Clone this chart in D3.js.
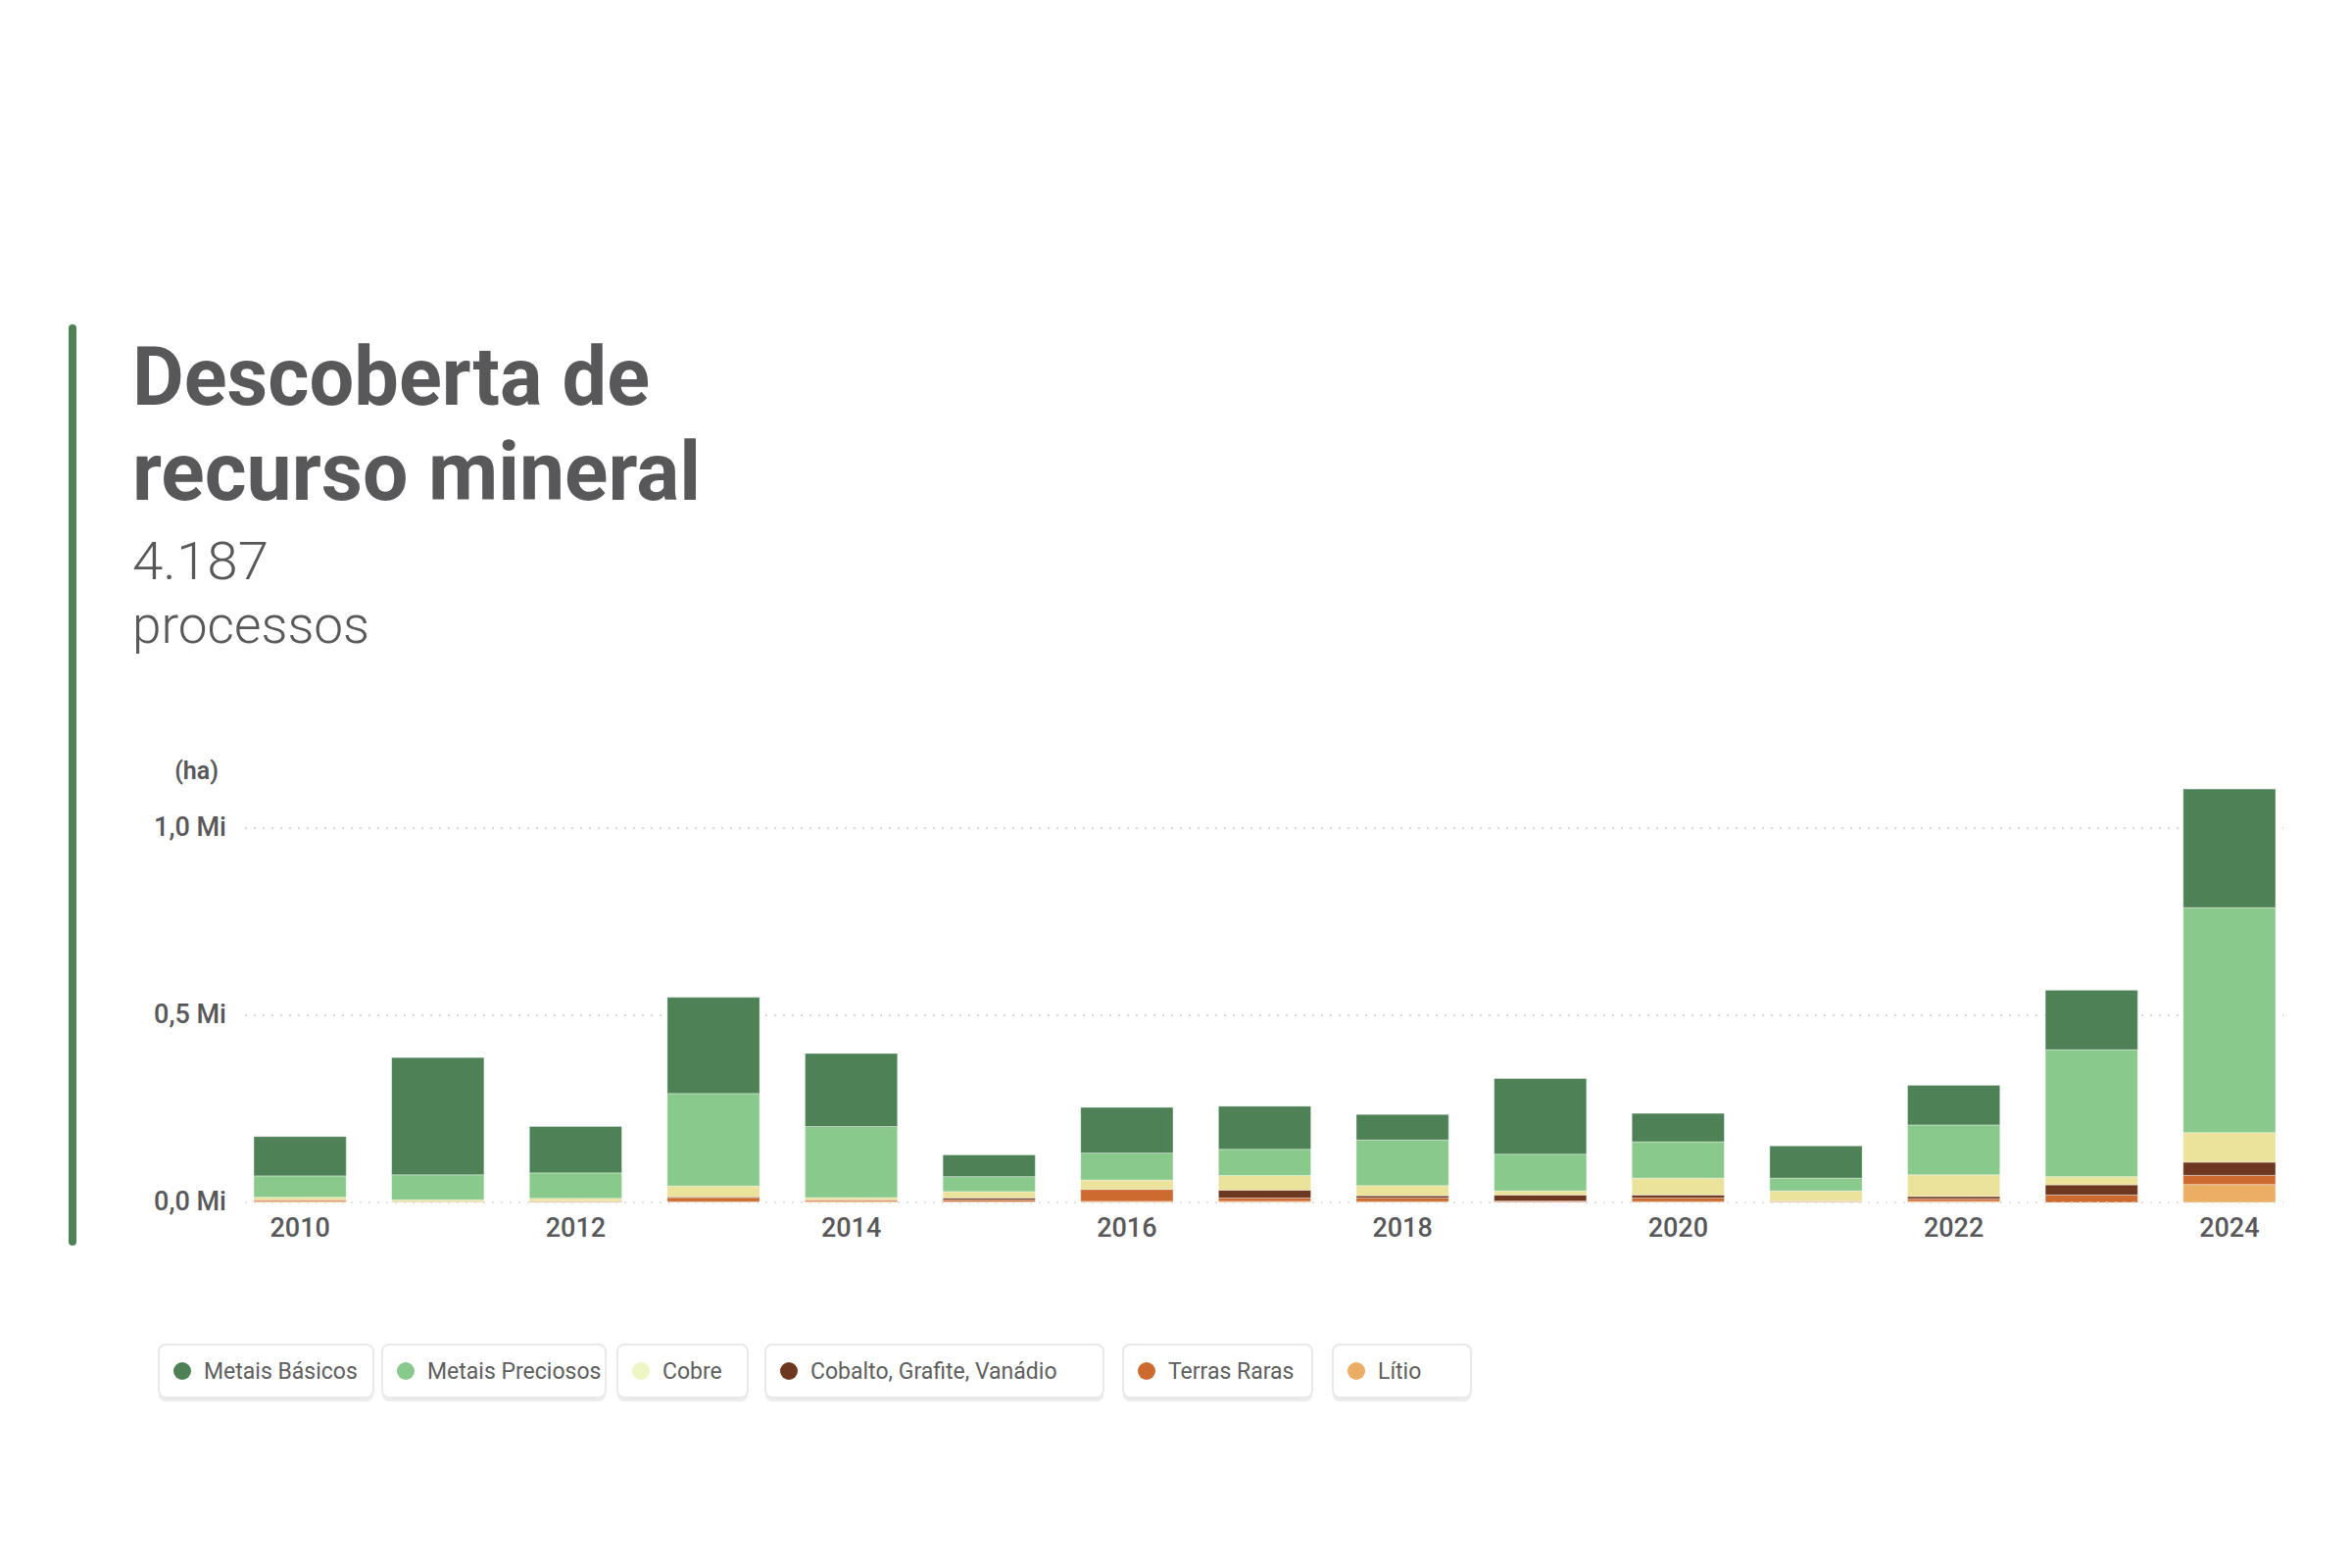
<!DOCTYPE html>
<html>
<head>
<meta charset="utf-8">
<script src="https://cdn.jsdelivr.net/npm/d3@7"></script>
<style>
  body { margin: 0; background: #fff; }
  svg { display: block; font-family: Roboto, "Open Sans", sans-serif; }
</style>
</head>
<body>
<svg id="chart" width="2400" height="1600"></svg>
<script>
// --- values (hectares) ---
const years = [2010, 2011, 2012, 2013, 2014, 2015, 2016, 2017, 2018, 2019, 2020, 2021, 2022, 2023, 2024];
const seriesNames = ["Metais Básicos", "Metais Preciosos", "Cobre", "Cobalto, Grafite, Vanádio", "Terras Raras", "Lítio"];
const seriesColors = ["#4e8156", "#89ca8c", "#ebe29c", "#6e3720", "#cd6a30", "#ecae64"];
const legendDotColors = ["#4e8156", "#89ca8c", "#eef6c4", "#6e3720", "#cd6a30", "#ecae64"];

const metaisBasicos   = [105000, 313000, 124000, 257000, 195000, 58000, 122000, 115000, 68000, 202000, 76000, 86000, 106000, 159000, 317000];
const metaisPreciosos = [57000, 67000, 68000, 247000, 190000, 40000, 72000, 70000, 122000, 98000, 97000, 34000, 133000, 339000, 601000];
const cobre           = [7000, 5000, 8000, 29000, 6000, 17000, 25000, 39000, 27000, 11000, 45000, 27000, 58000, 22000, 79000];
const cobalto         = [0, 0, 0, 2000, 0, 5000, 0, 21000, 6000, 16000, 8000, 0, 6000, 27000, 35000];
const terrasRaras     = [4000, 1000, 2000, 11000, 4000, 5000, 32000, 9000, 10000, 3000, 10000, 2000, 7000, 20000, 24500];
const litio           = [3000, 1000, 1000, 2000, 3000, 2000, 3000, 3000, 2000, 1000, 2000, 2000, 3000, 0, 48000];

const yTicks = [0, 500000, 1000000];
const xTickYears = [2010, 2012, 2014, 2016, 2018, 2020, 2022, 2024];

const seriesValues = [metaisBasicos, metaisPreciosos, cobre, cobalto, terrasRaras, litio];

// rows for d3.stack
const table = years.map((year, i) => {
    const row = { year: year };
    seriesNames.forEach((name, s) => { row[name] = seriesValues[s][i]; });
    return row;
});

const svg = d3.select("#chart");
const textColor = "#58585a";

// left accent bar
svg.append("line")
    .attr("x1", 74).attr("x2", 74)
    .attr("y1", 335).attr("y2", 1267)
    .attr("stroke", "#4e8156").attr("stroke-width", 8)
    .attr("stroke-linecap", "round");

// header
const titleLines = ["Descoberta de", "recurso mineral"];
const titleWidths = [528, 580];
svg.append("g").selectAll("text")
    .data(titleLines).join("text")
    .attr("x", 135)
    .attr("y", (d, i) => 413 + i * 97)
    .attr("font-size", 83).attr("font-weight", 700)
    .attr("fill", textColor)
    .attr("textLength", (d, i) => titleWidths[i])
    .attr("lengthAdjust", "spacingAndGlyphs")
    .text(d => d);

svg.append("text")
    .attr("x", 135).attr("y", 591)
    .attr("font-size", 54).attr("font-weight", 300)
    .attr("fill", textColor)
    .attr("textLength", 139).attr("lengthAdjust", "spacingAndGlyphs")
    .text("4.187");

svg.append("text")
    .attr("x", 135).attr("y", 656)
    .attr("font-size", 54).attr("font-weight", 300)
    .attr("fill", textColor)
    .attr("textLength", 242).attr("lengthAdjust", "spacingAndGlyphs")
    .text("processos");

// scales
const x = d3.scaleBand()
    .domain(years)
    .range([252, 2329])
    .paddingInner(0.33)
    .paddingOuter(0.05);

const y = d3.scaleLinear()
    .domain([0, 1000000])
    .range([1227, 845]);

const locale = d3.formatLocale({ decimal: ",", thousands: ".", grouping: [3], currency: ["R$", ""] });
const fmt = locale.format(".1f");

// gridlines (behind bars)
svg.append("g").selectAll("line")
    .data(yTicks.filter(d => d > 0)).join("line")
    .attr("x1", 250).attr("x2", 2330)
    .attr("y1", d => y(d)).attr("y2", d => y(d))
    .attr("stroke", "#d8d8d8").attr("stroke-width", 2)
    .attr("stroke-dasharray", "2 7");

// stacked bars, bottom to top: Lítio ... Metais Básicos
const stackKeys = seriesNames.slice().reverse();
const color = d3.scaleOrdinal().domain(seriesNames).range(seriesColors);
const stacked = d3.stack().keys(stackKeys)(table);

svg.append("g").selectAll("g")
    .data(stacked).join("g")
    .attr("fill", d => color(d.key))
    .selectAll("rect")
    .data(d => d).join("rect")
    .attr("x", d => x(d.data.year))
    .attr("width", x.bandwidth())
    .attr("y", d => y(d[1]))
    .attr("height", d => y(d[0]) - y(d[1]))
    .attr("stroke", "#ffffff").attr("stroke-opacity", 0.35).attr("stroke-width", 1);

// baseline dotted line drawn over bars
svg.append("line")
    .attr("x1", 250).attr("x2", 2330)
    .attr("y1", y(0)).attr("y2", y(0))
    .attr("stroke", "#d8d8d8").attr("stroke-opacity", 0.8).attr("stroke-width", 2)
    .attr("stroke-dasharray", "2 7");

// y axis labels
svg.append("text")
    .attr("x", 223).attr("y", 795)
    .attr("text-anchor", "end")
    .attr("font-size", 25).attr("font-weight", 600)
    .attr("fill", textColor)
    .text("(ha)");

svg.append("g").selectAll("text")
    .data(yTicks).join("text")
    .attr("x", 231)
    .attr("y", d => y(d))
    .attr("dy", "0.3em")
    .attr("text-anchor", "end")
    .attr("font-size", 27).attr("font-weight", 500)
    .attr("fill", textColor)
    .text(d => fmt(d / 1e6) + " Mi");

// x axis labels
svg.append("g").selectAll("text")
    .data(xTickYears).join("text")
    .attr("x", d => x(d) + x.bandwidth() / 2)
    .attr("y", 1267)
    .attr("dy", "-0.2em")
    .attr("text-anchor", "middle")
    .attr("font-size", 27).attr("font-weight", 500)
    .attr("fill", textColor)
    .text(d => d);

// legend chips (chip widths / gaps follow the reference's layout)
const chipWidths = [219, 228, 133, 345, 193, 141];
const chipGaps = [9, 12, 18, 20, 21, 0];
const legend = svg.append("g");
let legendX = 162;
seriesNames.forEach((name, i) => {
    const w = chipWidths[i];
    const chip = legend.append("g").attr("transform", `translate(${legendX},1372)`);
    chip.append("rect")
        .attr("x", 0).attr("y", 3).attr("width", w).attr("height", 55)
        .attr("rx", 7).attr("fill", "#ececec");
    chip.append("rect")
        .attr("x", 0).attr("y", 0).attr("width", w).attr("height", 54)
        .attr("rx", 7).attr("fill", "#fff")
        .attr("stroke", "#e9e9e9").attr("stroke-width", 2);
    chip.append("circle")
        .attr("cx", 24).attr("cy", 27).attr("r", 9)
        .attr("fill", legendDotColors[i]);
    chip.append("text")
        .attr("x", 46).attr("y", 27).attr("dy", "0.35em")
        .attr("font-size", 23).attr("fill", "#5e5e5e")
        .text(name);
    legendX += w + chipGaps[i];
});
</script>
</body>
</html>
